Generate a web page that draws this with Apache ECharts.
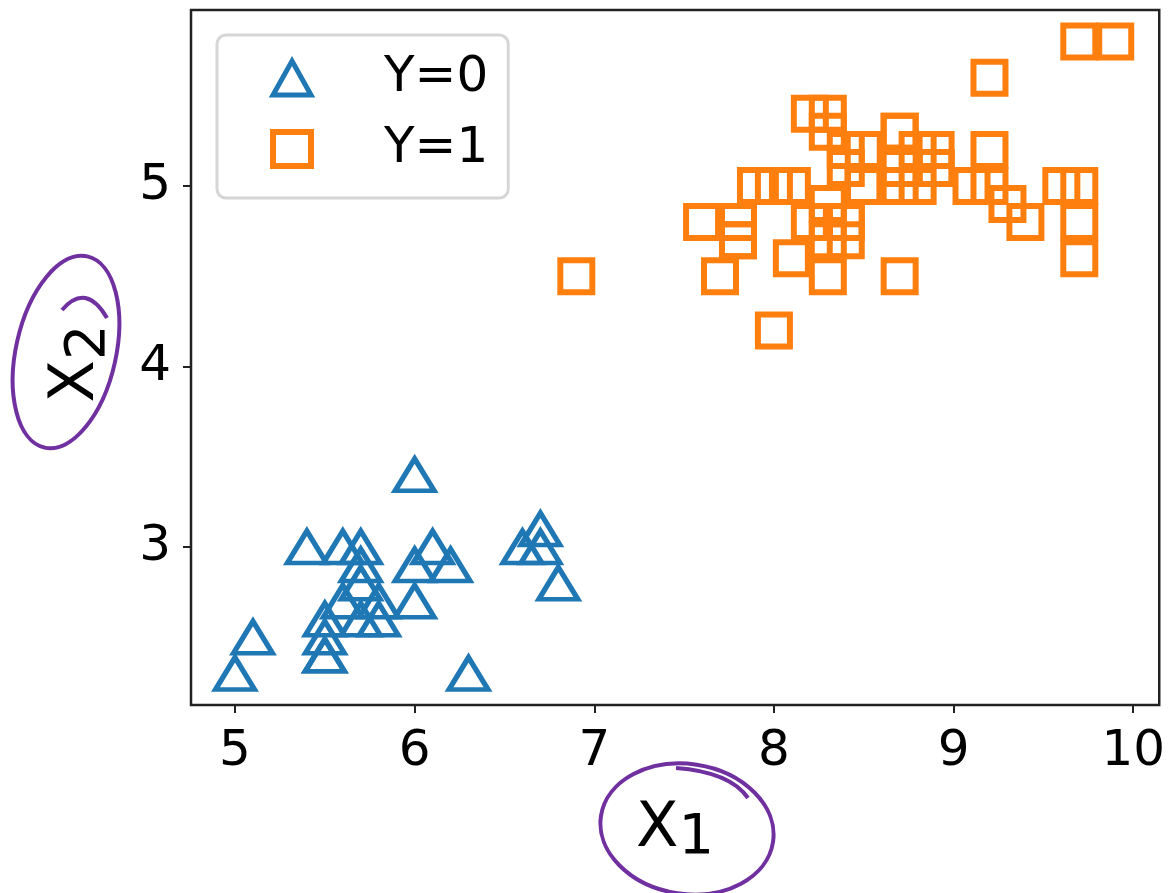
<!DOCTYPE html>
<html>
<head>
<meta charset="utf-8">
<title>X1 vs X2 scatter</title>
<script src="https://cdn.jsdelivr.net/npm/echarts@6/dist/echarts.min.js"></script>
<style>
  html, body { margin: 0; padding: 0; background: #fff; }
  #chart { width: 1168px; height: 893px; }
</style>
</head>
<body>
<div id="chart"></div>
<script>
// class Y=0 (triangles)
var y0X1 = [6.6, 6.8, 6.7, 6.0, 5.7, 5.5, 5.5, 5.8, 6.0, 5.4, 6.0, 6.7, 6.3, 5.6, 5.5, 5.5, 6.1, 5.8, 5.0, 5.6, 5.7, 5.7, 6.2, 5.1, 5.7]
var y0X2 = [3.0, 2.8, 3.0, 2.9, 2.6, 2.4, 2.4, 2.7, 2.7, 3.0, 3.4, 3.1, 2.3, 3.0, 2.5, 2.6, 3.0, 2.6, 2.3, 2.7, 3.0, 2.9, 2.9, 2.5, 2.8]
// class Y=1 (squares)
var y1X1 = [8.3, 7.8, 9.1, 8.3, 8.5, 9.6, 6.9, 9.3, 8.7, 9.2, 8.5, 8.4, 8.8, 7.7, 7.8, 8.4, 8.5, 9.7, 9.7, 8.0,
  8.9, 7.6, 9.7, 8.3, 8.7, 9.2, 8.2, 8.1, 8.4, 9.2, 9.4, 9.9, 8.4, 8.3, 8.1, 9.7, 8.3, 8.4, 8.0, 8.9,
  8.7, 8.9, 7.8, 8.8, 8.7, 8.7, 8.3, 8.5, 8.2, 7.9]
var y1X2 = [5.3, 4.7, 5.0, 4.9, 5.0, 5.0, 4.5, 4.9, 4.5, 5.6, 5.2, 4.7, 5.0, 4.5, 4.8, 5.2, 5.0, 5.8, 4.6, 4.2,
  5.2, 4.8, 4.8, 4.7, 5.3, 5.2, 4.8, 5.0, 4.8, 5.0, 4.8, 5.8, 4.8, 4.8, 4.6, 5.0, 5.4, 5.1, 5.0, 5.1,
  5.1, 5.1, 4.7, 5.2, 5.3, 5.0, 4.5, 5.0, 5.4, 5.0]
var xTicks = [5, 6, 7, 8, 9, 10]
var yTicks = [3, 4, 5]
var classNames = ['Y=0', 'Y=1']

var blue = '#1f77b4'
var orange = '#ff7f0e'
var ink = '#222222'
var purple = '#7030a0'
var font = 'DejaVu Sans'

function pairs (xs, ys) {
  return xs.map(function (v, i) { return [v, ys[i]] })
}

var chart = echarts.init(document.getElementById('chart'))

var option = {
  backgroundColor: '#ffffff',
  animation: false,
  grid: {
    left: 191,
    right: 4,
    top: 10,
    bottom: 188,
    show: true,
    borderColor: ink,
    borderWidth: 2.5,
    containLabel: false
  },
  legend: {
    orient: 'vertical',
    left: 217,
    top: 35,
    padding: [18, 20, 24, 53],
    itemGap: 21,
    itemWidth: 38,
    itemHeight: 34,
    borderColor: '#d6d6d6',
    borderWidth: 3,
    borderRadius: 9,
    backgroundColor: '#ffffff',
    textStyle: {
      fontFamily: font,
      fontSize: 50,
      color: '#000',
      padding: [0, 0, 0, 68],
      lineHeight: 38
    },
    data: [
      { name: classNames[0], icon: 'triangle', itemStyle: { color: 'rgba(0,0,0,0)', borderColor: blue, borderWidth: 5 } },
      { name: classNames[1], icon: 'rect', itemStyle: { color: 'rgba(0,0,0,0)', borderColor: orange, borderWidth: 6 } }
    ]
  },
  xAxis: {
    type: 'value',
    min: 4.755,
    max: 10.145,
    splitLine: { show: false },
    axisLine: { show: false },
    axisTick: {
      show: true,
      length: 8,
      lineStyle: { color: ink, width: 2 },
      customValues: xTicks
    },
    axisLabel: {
      customValues: xTicks,
      margin: 22,
      fontFamily: font,
      fontSize: 50,
      color: '#000'
    },
    name: 'X{s|1}',
    nameLocation: 'middle',
    nameGap: 88,
    nameTextStyle: {
      fontFamily: font,
      fontSize: 62,
      color: '#000',
      verticalAlign: 'top',
      rich: {
        s: { fontFamily: font, fontSize: 56, color: '#000', padding: [17, 0, 0, 0] }
      }
    }
  },
  yAxis: {
    type: 'value',
    min: 2.125,
    max: 5.975,
    splitLine: { show: false },
    axisLine: { show: false },
    axisTick: {
      show: true,
      length: 8,
      lineStyle: { color: ink, width: 2 },
      customValues: yTicks
    },
    axisLabel: {
      customValues: yTicks,
      margin: 20,
      fontFamily: font,
      fontSize: 50,
      color: '#000'
    },
    name: 'X{s|2}',
    nameLocation: 'middle',
    nameRotate: 90,
    nameGap: 74,
    nameTextStyle: {
      fontFamily: font,
      fontSize: 62,
      color: '#000',
      padding: [0, 12, 0, 0],
      rich: {
        s: { fontFamily: font, fontSize: 56, color: '#000', padding: [24, 0, 0, 0] }
      }
    }
  },
  series: [
    {
      name: classNames[0],
      type: 'scatter',
      symbol: 'triangle',
      symbolSize: [39, 32],
      itemStyle: { color: 'rgba(0,0,0,0)', borderColor: blue, borderWidth: 5, opacity: 1 },
      data: pairs(y0X1, y0X2)
    },
    {
      name: classNames[1],
      type: 'scatter',
      symbol: 'rect',
      symbolSize: 32,
      itemStyle: { color: 'rgba(0,0,0,0)', borderColor: orange, borderWidth: 6, opacity: 1 },
      data: pairs(y1X1, y1X2)
    }
  ],
  // hand-drawn purple rings round the axis titles
  graphic: [
    {
      type: 'ellipse',
      x: 687, y: 829,
      rotation: -0.15,
      shape: { cx: 0, cy: 0, rx: 87, ry: 65 },
      style: { fill: null, stroke: purple, lineWidth: 4 },
      silent: true
    },
    {
      type: 'bezierCurve',
      shape: { x1: 676, y1: 768, x2: 748, y2: 798, cpx1: 730, cpy1: 772 },
      style: { fill: null, stroke: purple, lineWidth: 4 },
      silent: true
    },
    {
      type: 'ellipse',
      x: 66, y: 352,
      rotation: -0.22,
      shape: { cx: 0, cy: 0, rx: 50, ry: 98 },
      style: { fill: null, stroke: purple, lineWidth: 4 },
      silent: true
    },
    {
      type: 'bezierCurve',
      shape: { x1: 62, y1: 310, x2: 107, y2: 318, cpx1: 86, cpy1: 282 },
      style: { fill: null, stroke: purple, lineWidth: 4 },
      silent: true
    }
  ]
}

chart.setOption(option)
</script>
</body>
</html>
